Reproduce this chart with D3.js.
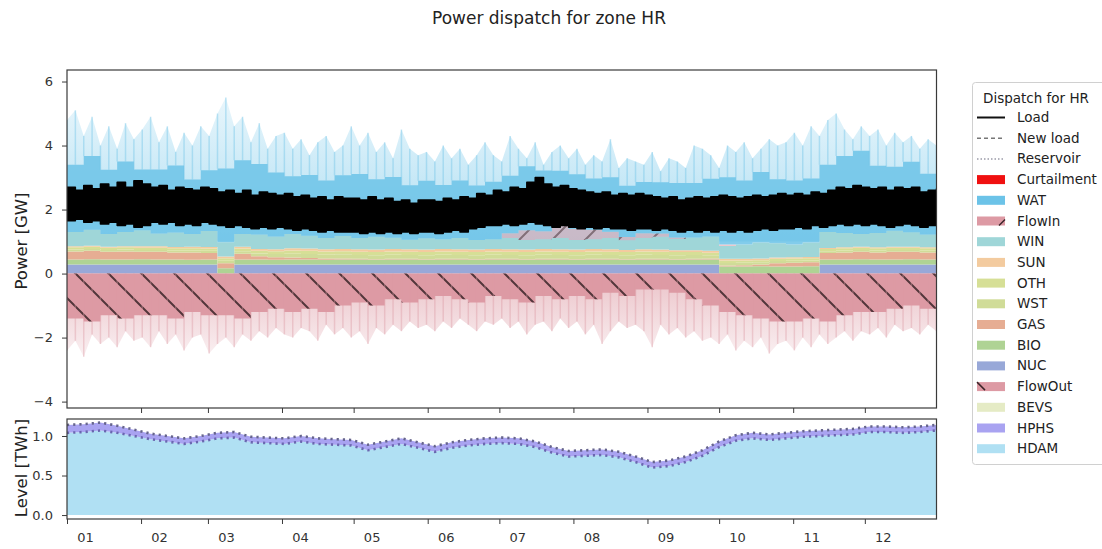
<!DOCTYPE html>
<html><head><meta charset="utf-8">
<script src="https://cdn.jsdelivr.net/npm/d3@7"></script>
<style>body{margin:0;background:#fff;} svg{display:block;font-family:"DejaVu Sans",sans-serif;}</style>
</head><body><svg id="c" width="1102" height="549"></svg>
<script>
// ---------- DATA ----------
const monthLabels = ["01","02","03","04","05","06","07","08","09","10","11","12"];
const powerTicks = [-4,-2,0,2,4,6];
const levelTicks = [0.0,0.5,1.0];

// weekly generation layers [GW], 53 weeks
const NUC = [0.28,0.28,0.28,0.28,0.28,0.28,0.28,0.28,0.28,0,0.28,0.28,0.28,0.28,0.28,0.28,0.28,0.28,0.28,0.28,0.28,0.28,0.28,0.28,0.28,0.28,0.28,0.28,0.28,0.28,0.28,0.28,0.28,0.28,0.28,0.28,0.28,0.28,0.28,0,0,0,0,0,0,0.28,0.28,0.28,0.28,0.28,0.28,0.28,0.28];
const BIO = [0.16,0.17,0.16,0.16,0.17,0.16,0.16,0.15,0.16,0.17,0.16,0.16,0.15,0.16,0.16,0.15,0.16,0.16,0.15,0.16,0.16,0.15,0.16,0.16,0.15,0.16,0.16,0.15,0.16,0.16,0.15,0.16,0.16,0.15,0.16,0.16,0.15,0.16,0.16,0.22,0.22,0.23,0.22,0.22,0.23,0.16,0.16,0.17,0.16,0.16,0.17,0.16,0.16];
const GAS = [0.25,0.26,0.24,0.25,0.23,0.24,0.22,0.23,0.2,0.15,0.18,0.1,0.08,0.06,0.05,0.04,0.03,0.02,0.02,0.02,0.02,0.02,0.02,0.02,0.02,0.02,0.02,0.02,0.02,0.02,0.02,0.02,0.02,0.02,0.02,0.02,0.02,0.02,0.03,0.03,0.04,0.05,0.1,0.12,0.12,0.2,0.22,0.23,0.22,0.24,0.23,0.22,0.22];
const WST = [0.06,0.06,0.06,0.06,0.06,0.06,0.06,0.06,0.07,0.08,0.08,0.09,0.1,0.12,0.12,0.12,0.13,0.12,0.12,0.13,0.12,0.12,0.13,0.12,0.12,0.13,0.12,0.12,0.13,0.12,0.12,0.13,0.12,0.12,0.13,0.12,0.12,0.12,0.1,0.08,0.08,0.07,0.07,0.06,0.06,0.06,0.06,0.06,0.06,0.06,0.06,0.06,0.06];
const OTH = [0.07,0.07,0.07,0.07,0.07,0.07,0.07,0.07,0.07,0.08,0.08,0.08,0.09,0.1,0.1,0.1,0.1,0.1,0.1,0.1,0.1,0.1,0.1,0.1,0.1,0.1,0.1,0.1,0.1,0.1,0.1,0.1,0.1,0.1,0.1,0.1,0.1,0.09,0.08,0.08,0.07,0.07,0.07,0.07,0.07,0.07,0.07,0.07,0.07,0.07,0.07,0.07,0.07];
const SUN = [0.03,0.03,0.03,0.03,0.04,0.04,0.04,0.05,0.05,0.05,0.06,0.06,0.06,0.07,0.07,0.07,0.07,0.08,0.08,0.08,0.08,0.08,0.08,0.08,0.08,0.08,0.08,0.08,0.08,0.08,0.08,0.08,0.08,0.07,0.07,0.07,0.06,0.06,0.06,0.05,0.05,0.05,0.04,0.04,0.04,0.03,0.03,0.03,0.03,0.03,0.03,0.03,0.03];
const WIN = [0.45,0.5,0.4,0.45,0.5,0.4,0.45,0.4,0.5,0.45,0.4,0.45,0.4,0.45,0.4,0.35,0.4,0.35,0.4,0.35,0.3,0.35,0.3,0.35,0.3,0.3,0.35,0.3,0.3,0.35,0.3,0.3,0.35,0.3,0.35,0.4,0.35,0.4,0.45,0.4,0.45,0.5,0.45,0.4,0.45,0.5,0.45,0.4,0.45,0.5,0.45,0.4,0.45];
const FLOWIN = [0,0,0,0,0,0,0,0,0,0,0,0,0,0,0,0,0,0,0,0,0,0,0,0,0,0,0.15,0.3,0.25,0.4,0.35,0.3,0.2,0.1,0.15,0.1,0.05,0,0,0.05,0,0,0,0,0,0,0,0,0,0,0,0,0];
const WAT = [2.1,2.3,2.0,2.2,1.9,2.0,2.1,1.7,1.9,2.3,2.3,2.2,2.0,1.8,1.9,1.8,1.9,2.0,1.8,1.9,1.7,1.8,1.7,1.8,1.7,1.8,1.8,2.0,1.9,1.7,1.7,1.6,1.7,1.6,1.6,1.6,1.7,1.7,1.8,2.1,2.0,2.2,2.0,2.0,2.0,2.1,2.4,2.6,2.1,2.0,2.2,1.9,1.8];
const FLOWOUT = [-1.4,-1.5,-1.3,-1.4,-1.3,-1.3,-1.4,-1.2,-1.3,-1.3,-1.4,-1.2,-1.1,-1.2,-1.1,-1.2,-1.0,-0.9,-1.0,-0.8,-0.9,-0.8,-0.7,-0.8,-0.9,-0.7,-0.8,-0.9,-0.7,-0.8,-0.7,-0.8,-0.6,-0.7,-0.5,-0.5,-0.6,-0.8,-1.0,-1.2,-1.3,-1.4,-1.5,-1.5,-1.4,-1.5,-1.3,-1.2,-1.2,-1.1,-1.0,-1.1,-1.0];

// half-weekly peaks / load envelope, 105 points
const WAT_PEAK = [4.8,5.1,4.3,4.9,4.0,4.6,3.9,4.7,4.2, 4.5,4.9,4.1,4.6,3.8,4.4,4.0,4.6, 4.3,5.0,5.5,4.6,4.9,4.1,4.7,3.9,4.3, 4.4,3.9,4.2,3.7,4.1,4.3,3.8,4.0, 4.6,4.0,4.4,3.8,4.1,3.6,4.5,3.9,3.7, 3.8,3.5,4.0,3.6,3.9,3.4,3.7,4.1, 3.7,3.5,4.3,3.9,3.6,4.1,3.4,3.8,4.0, 3.6,3.9,3.4,3.7,3.5,4.2,3.3,3.6,3.5, 3.4,3.8,3.2,3.6,3.5,3.3,4.0,3.9, 3.7,3.3,4.0,3.8,4.1,3.6,3.9,4.2,4.0, 4.1,4.4,4.0,4.6,4.3,4.8,5.0,4.5,4.2, 4.6,4.3,4.5,4.0,4.4,4.1,4.3,3.9,4.2,4.0];
const FLOWOUT_PEAK = [-2.4,-2.1,-2.6,-1.9,-2.2,-2.0,-2.3,-1.8,-2.1, -2.0,-2.3,-1.8,-2.2,-1.9,-2.4,-2.0,-1.9, -2.5,-2.2,-2.0,-2.3,-1.9,-2.1,-1.8,-2.0,-1.7, -1.9,-2.0,-1.7,-1.8,-2.1,-1.6,-1.9,-1.7, -2.0,-1.8,-2.2,-1.7,-1.9,-1.6,-1.8,-1.5,-1.7, -1.6,-1.8,-1.5,-1.7,-1.4,-1.6,-1.8,-1.5, -1.6,-1.4,-1.7,-1.5,-1.9,-1.6,-1.5,-1.8,-1.4, -1.7,-1.5,-1.9,-1.6,-2.2,-1.8,-1.5,-1.7,-1.6, -1.8,-2.3,-1.6,-1.9,-1.7,-2.0,-1.8,-2.1, -2.0,-2.2,-1.9,-2.4,-2.1,-2.3,-2.0,-2.5,-2.2, -2.1,-2.4,-2.0,-2.3,-1.9,-2.2,-2.0,-1.8,-2.1, -1.8,-1.9,-1.7,-2.0,-1.6,-1.8,-1.7,-1.9,-1.6,-1.8];
const LOAD_HIGH = [2.7,2.6,2.75,2.65,2.8,2.7,2.85,2.7,2.9, 2.8,2.7,2.75,2.6,2.7,2.65,2.6,2.7, 2.65,2.55,2.6,2.5,2.6,2.45,2.55,2.5,2.45, 2.5,2.4,2.45,2.35,2.4,2.3,2.4,2.35, 2.35,2.3,2.4,2.3,2.35,2.25,2.3,2.2,2.3, 2.3,2.25,2.35,2.3,2.4,2.35,2.5,2.45, 2.6,2.55,2.7,2.65,2.85,3.0,2.8,2.7,2.75, 2.65,2.6,2.55,2.5,2.55,2.45,2.5,2.45,2.5, 2.45,2.4,2.35,2.4,2.3,2.35,2.4,2.35, 2.4,2.45,2.4,2.35,2.4,2.45,2.4,2.45,2.5, 2.45,2.5,2.45,2.55,2.5,2.6,2.7,2.65,2.75, 2.7,2.65,2.7,2.6,2.7,2.65,2.7,2.55,2.6,2.65];
const LOAD_LOW = [1.65,1.7,1.6,1.65,1.55,1.6,1.5,1.55,1.45, 1.5,1.6,1.55,1.6,1.5,1.55,1.5,1.6, 1.55,1.5,1.45,1.5,1.45,1.4,1.45,1.4,1.45, 1.4,1.35,1.4,1.35,1.3,1.35,1.3,1.3, 1.3,1.25,1.3,1.25,1.3,1.25,1.3,1.25,1.3, 1.3,1.25,1.3,1.35,1.3,1.4,1.45,1.5, 1.5,1.55,1.5,1.55,1.6,1.55,1.5,1.45,1.5, 1.45,1.4,1.45,1.4,1.45,1.4,1.4,1.35,1.4, 1.4,1.35,1.4,1.35,1.3,1.35,1.3,1.35, 1.3,1.35,1.3,1.35,1.3,1.35,1.4,1.35,1.4, 1.4,1.45,1.4,1.5,1.45,1.5,1.55,1.5,1.55, 1.5,1.55,1.5,1.45,1.5,1.55,1.5,1.45,1.5,1.55];

// storage level [TWh], weekly
const HDAM_LEVEL = [1.04,1.05,1.07,1.04,1.0,0.96,0.93,0.9,0.93,0.97,0.98,0.92,0.91,0.9,0.93,0.9,0.89,0.88,0.82,0.86,0.9,0.85,0.8,0.85,0.88,0.9,0.91,0.9,0.86,0.79,0.74,0.75,0.76,0.73,0.67,0.6,0.62,0.67,0.75,0.86,0.94,0.97,0.95,0.97,0.99,1.0,1.01,1.02,1.05,1.05,1.04,1.05,1.07];
const HPHS_LEVEL = [0.1,0.1,0.1,0.09,0.08,0.07,0.07,0.07,0.07,0.07,0.07,0.07,0.07,0.07,0.07,0.07,0.07,0.07,0.07,0.07,0.07,0.07,0.07,0.07,0.07,0.07,0.07,0.07,0.07,0.07,0.07,0.07,0.07,0.07,0.07,0.07,0.07,0.07,0.07,0.07,0.07,0.07,0.07,0.07,0.07,0.07,0.07,0.07,0.07,0.07,0.07,0.07,0.07];

// ---------- STYLE ----------
const COL = {Curtailment:"#f01010", WAT:"#6cc3e8", FlowIn:"#dd9aa4", WIN:"#9fd6d8", SUN:"#f3cb9f",
  OTH:"#d6df96", WST:"#d0dc98", GAS:"#e6ad93", BIO:"#afd394", NUC:"#98a8d8", FlowOut:"#dd9aa4",
  BEVS:"#e5ebc5", HPHS:"#a9a3f1", HDAM:"#b0e0f3"};
const FONT = "DejaVu Sans";

const svg = d3.select("#c");
const t0 = new Date(2019,0,1), t1 = new Date(2019,11,31);
const wk = i => d3.timeDay.offset(t0, 7*i);
const hw = i => new Date(t0.getTime() + i*3.5*864e5);
const x = d3.scaleTime().domain([t0,t1]).range([67,936.5]);
const y = d3.scaleLinear().domain([-4.2,6.36]).range([408,70]);
const y2 = d3.scaleLinear().domain([-0.05,1.215]).range([519,419]);

const defs = svg.append("defs");
defs.append("clipPath").attr("id","clipTop").append("rect").attr("x",67).attr("y",70).attr("width",869.5).attr("height",338);
defs.append("clipPath").attr("id","clipBot").append("rect").attr("x",67).attr("y",419).attr("width",869.5).attr("height",100);
function hatch(id, dir){
  const p = defs.append("pattern").attr("id",id).attr("patternUnits","userSpaceOnUse").attr("width",33).attr("height",33);
  const d = dir==="\\" ? "M-3,-3L36,36M-36,-3L3,36M30,-3L69,36" : "M-3,36L36,-3M-36,36L3,-3M30,36L69,-3";
  p.append("path").attr("d",d).attr("stroke","#3a2428").attr("stroke-width",2).attr("fill","none");
}
hatch("hOut","\\"); hatch("hIn","/");
const g1 = defs.append("linearGradient").attr("id","watGrad").attr("x1",0).attr("x2",0).attr("y1",0).attr("y2",1);
g1.append("stop").attr("offset","0%").attr("stop-color",COL.WAT).attr("stop-opacity",0.15);
g1.append("stop").attr("offset","100%").attr("stop-color",COL.WAT).attr("stop-opacity",0.55);
const g2 = defs.append("linearGradient").attr("id","outGrad").attr("x1",0).attr("x2",0).attr("y1",0).attr("y2",1);
g2.append("stop").attr("offset","0%").attr("stop-color",COL.FlowOut).attr("stop-opacity",0.6);
g2.append("stop").attr("offset","100%").attr("stop-color",COL.FlowOut).attr("stop-opacity",0.15);

// ---------- TOP PANEL ----------
const gTop = svg.append("g").attr("clip-path","url(#clipTop)");
const keys = ["NUC","BIO","GAS","WST","OTH","SUN","WIN","FlowIn","WAT"];
const src = {NUC,BIO,GAS,WST,OTH,SUN,WIN,FlowIn:FLOWIN,WAT};
const rows = NUC.map((_,i)=>{const r={date:wk(i)}; keys.forEach(k=>r[k]=src[k][i]); return r;});
const series = d3.stack().keys(keys)(rows);
const stackTop = rows.map((r,i)=>series[series.length-1][i][1]);

// WAT peaks halo
const peakArea = d3.area().x((d,i)=>x(hw(i))).y0(y(1.0)).y1(d=>y(d)).curve(d3.curveLinear);
gTop.append("path").datum(WAT_PEAK).attr("d",peakArea).attr("fill","url(#watGrad)");
// FlowOut peaks halo
const outPeak = d3.area().x((d,i)=>x(hw(i))).y0(y(0)).y1(d=>y(d)).curve(d3.curveLinear);
gTop.append("path").datum(FLOWOUT_PEAK).attr("d",outPeak).attr("fill","url(#outGrad)");

// stacked positive layers
const area = d3.area().x(d=>x(d.data.date)).y0(d=>y(d[0])).y1(d=>y(d[1])).curve(d3.curveStepAfter);
gTop.selectAll("path.layer").data(series).join("path").attr("class","layer")
  .attr("d",area).attr("fill",d=>COL[d.key]).attr("opacity",d=>d.key==="FlowIn"?0.55:(d.key==="WAT"?0.85:1));
gTop.append("path").datum(series[keys.indexOf("FlowIn")]).attr("d",area).attr("fill","url(#hIn)").attr("opacity",0.5);

// FlowOut dense
const outArea = d3.area().x((d,i)=>x(wk(i))).y0(y(0)).y1(d=>y(d)).curve(d3.curveStepAfter);
gTop.append("path").datum(FLOWOUT).attr("d",outArea).attr("fill",COL.FlowOut);
gTop.append("path").datum(FLOWOUT).attr("d",outArea).attr("fill","url(#hOut)").attr("opacity",0.85);

// spikes
gTop.selectAll("line.ws").data(WAT_PEAK).join("line").attr("class","ws")
  .attr("x1",(d,i)=>x(hw(i))).attr("x2",(d,i)=>x(hw(i)))
  .attr("y1",(d,i)=>y(stackTop[Math.min(52,Math.floor(i/2))])).attr("y2",d=>y(d))
  .attr("stroke",COL.WAT).attr("stroke-width",1.5).attr("opacity",0.4);
gTop.selectAll("line.fs").data(FLOWOUT_PEAK).join("line").attr("class","fs")
  .attr("x1",(d,i)=>x(hw(i))).attr("x2",(d,i)=>x(hw(i)))
  .attr("y1",y(0)).attr("y2",d=>y(d))
  .attr("stroke",COL.FlowOut).attr("stroke-width",1.5).attr("opacity",0.4);

// load band (envelope of the hourly load line)
const loadArea = d3.area().x((d,i)=>x(hw(i))).y0((d,i)=>y(LOAD_LOW[i])).y1(d=>y(d)).curve(d3.curveStepAfter);
gTop.append("path").datum(LOAD_HIGH).attr("d",loadArea).attr("fill","#000").attr("stroke","#000").attr("stroke-width",1.5).attr("stroke-linejoin","round");

// top axes
const frame = "#3a3a3a";
svg.append("rect").attr("x",67).attr("y",70).attr("width",869.5).attr("height",338).attr("fill","none").attr("stroke",frame).attr("stroke-width",1.2);
svg.append("g").attr("transform","translate(67,0)").call(d3.axisLeft(y).tickValues(powerTicks).tickSize(5).tickPadding(9).tickFormat(d=>d<0?"\u2212"+Math.abs(d):d));
const monthTicks = d3.timeMonth.range(d3.timeMonth.offset(t0,1), t1);
svg.append("g").attr("transform","translate(0,408)").call(d3.axisBottom(x).tickValues(monthTicks).tickSize(5).tickFormat(""));

// ---------- BOTTOM PANEL ----------
const gBot = svg.append("g").attr("clip-path","url(#clipBot)");
const hdamA = d3.area().x((d,i)=>x(wk(i))).y0(y2(0)).y1(d=>y2(d));
const hphsA = d3.area().x((d,i)=>x(wk(i))).y0(d=>y2(d)).y1((d,i)=>y2(d+HPHS_LEVEL[i]));
gBot.append("path").datum(HDAM_LEVEL).attr("d",hdamA).attr("fill",COL.HDAM);
gBot.append("path").datum(HDAM_LEVEL).attr("d",hphsA).attr("fill",COL.HPHS);
const l1 = d3.line().x((d,i)=>x(wk(i))).y(d=>y2(d));
const l2 = d3.line().x((d,i)=>x(wk(i))).y((d,i)=>y2(d+HPHS_LEVEL[i]));
gBot.append("path").datum(HDAM_LEVEL).attr("d",l1).attr("fill","none").attr("stroke","#6a67b0").attr("stroke-width",2.6).attr("stroke-dasharray","2.2,4");
gBot.append("path").datum(HDAM_LEVEL).attr("d",l2).attr("fill","none").attr("stroke","#66648c").attr("stroke-width",2.6).attr("stroke-dasharray","2.2,4");
svg.append("rect").attr("x",67).attr("y",419).attr("width",869.5).attr("height",100).attr("fill","none").attr("stroke",frame).attr("stroke-width",1.2);
svg.append("g").attr("transform","translate(67,0)").call(d3.axisLeft(y2).tickValues(levelTicks).tickSize(5).tickPadding(9).tickFormat(d3.format(".1f")));
const allMonths = d3.timeMonth.range(t0, t1);
const xb = svg.append("g").attr("transform","translate(0,519)").call(d3.axisBottom(x).tickValues(allMonths).tickSize(5).tickPadding(9).tickFormat((d,i)=>monthLabels[i]));
xb.selectAll(".tick text").attr("dx",18);

svg.selectAll(".domain").remove();
svg.selectAll(".tick line").attr("stroke",frame).attr("stroke-width",1);
svg.selectAll(".tick text").attr("font-size",13).attr("fill","#333").attr("font-family",FONT);

// labels
svg.append("text").attr("x",549).attr("y",24).attr("text-anchor","middle").attr("font-size",17).attr("fill","#222").attr("font-family",FONT).text("Power dispatch for zone HR");
svg.append("text").attr("transform","translate(27,241) rotate(-90)").attr("text-anchor","middle").attr("font-size",16.5).attr("fill","#222").attr("font-family",FONT).text("Power [GW]");
svg.append("text").attr("transform","translate(27,468) rotate(-90)").attr("text-anchor","middle").attr("font-size",16.5).attr("fill","#222").attr("font-family",FONT).text("Level [TWh]");

// ---------- LEGEND ----------
const lg = svg.append("g").attr("font-family",FONT);
lg.append("rect").attr("x",972.5).attr("y",82.5).attr("width",140).attr("height",382).attr("rx",3).attr("fill","#fff").attr("stroke","#d0d0d0");
lg.append("text").attr("x",1036).attr("y",103).attr("text-anchor","middle").attr("font-size",13.5).attr("fill","#222").text("Dispatch for HR");
const items = [
  {n:"Load",t:"line",c:"#111",dash:null},
  {n:"New load",t:"line",c:"#777",dash:"4,3"},
  {n:"Reservoir",t:"line",c:"#9a9aa8",dash:"1.5,2"},
  {n:"Curtailment",t:"rect"},{n:"WAT",t:"rect"},{n:"FlowIn",t:"rect",h:"/"},{n:"WIN",t:"rect"},{n:"SUN",t:"rect"},
  {n:"OTH",t:"rect"},{n:"WST",t:"rect"},{n:"GAS",t:"rect"},{n:"BIO",t:"rect"},{n:"NUC",t:"rect"},
  {n:"FlowOut",t:"rect",h:"\\"},{n:"BEVS",t:"rect"},{n:"HPHS",t:"rect"},{n:"HDAM",t:"rect"}];
items.forEach((it,i)=>{
  const cy = 117.5 + i*20.7;
  if(it.t==="line"){
    const ln = lg.append("line").attr("x1",977).attr("x2",1005).attr("y1",cy).attr("y2",cy).attr("stroke",it.c).attr("stroke-width",it.n==="Load"?2:1.5);
    if(it.dash) ln.attr("stroke-dasharray",it.dash);
  } else {
    lg.append("rect").attr("x",977).attr("y",cy-4.5).attr("width",28).attr("height",9).attr("fill",COL[it.n]);
    if(it.h==="/") lg.append("line").attr("x1",999).attr("y1",cy+4.5).attr("x2",1005).attr("y2",cy-1.5).attr("stroke","#3a2428").attr("stroke-width",1.5);
    if(it.h==="\\") lg.append("line").attr("x1",977).attr("y1",cy-4.5).attr("x2",985).attr("y2",cy+3.5).attr("stroke","#3a2428").attr("stroke-width",1.5);
  }
  lg.append("text").attr("x",1017).attr("y",cy+4.5).attr("font-size",13.5).attr("fill","#222").text(it.n);
});
</script></body></html>
